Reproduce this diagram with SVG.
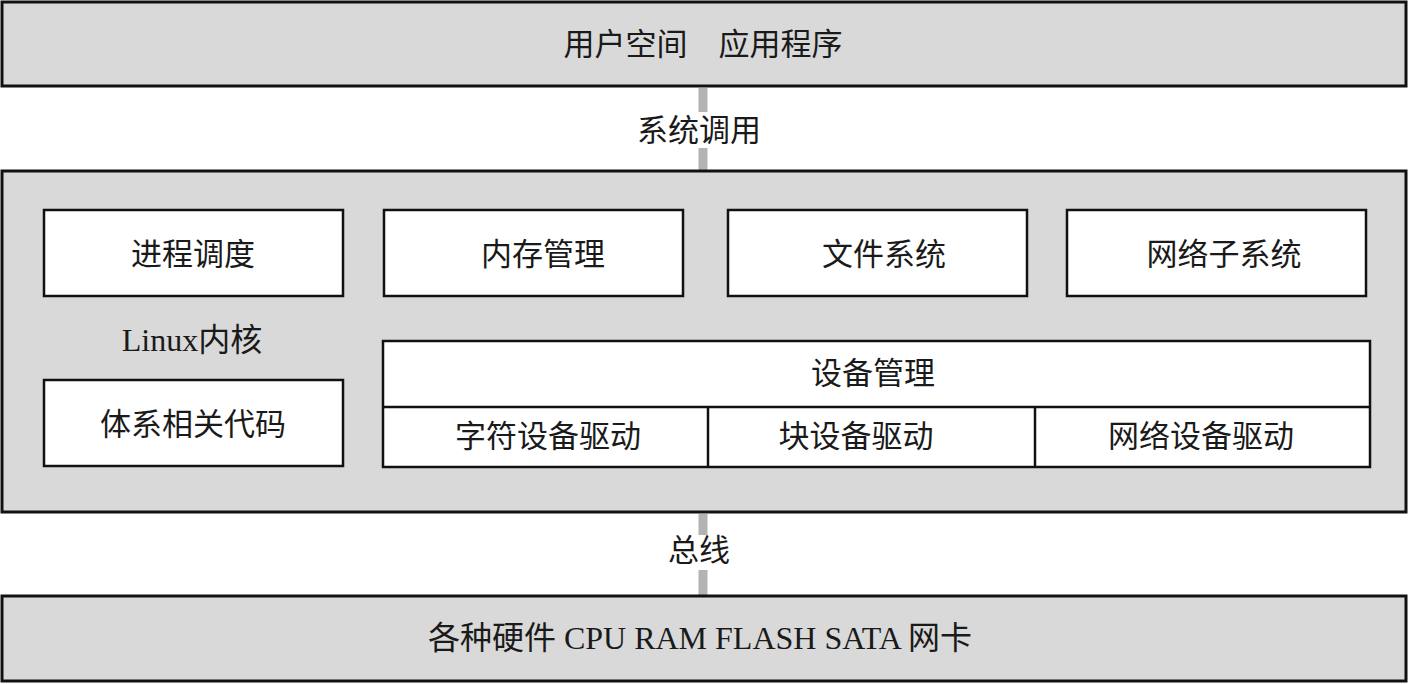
<svg xmlns="http://www.w3.org/2000/svg" width="1409" height="684" viewBox="0 0 1409 684">
<style>
.layer{fill:#d9d9d9;stroke:#111;stroke-width:3}
.box{fill:#fff;stroke:#111;stroke-width:2.5}
.t{font-family:"Liberation Serif","Noto Sans CJK SC",serif;font-size:31px;fill:#1a1a1a;text-anchor:middle;dominant-baseline:central}
.conn{stroke:#b3b3b3;stroke-width:9}
</style>
<rect width="1409" height="684" fill="#fff"/>
<g id="connectors">
<line class="conn" x1="703" y1="88" x2="703" y2="112"/>
<line class="conn" x1="703" y1="148" x2="703" y2="170"/>
<line class="conn" x1="703" y1="514" x2="703" y2="535"/>
<line class="conn" x1="703" y1="570" x2="703" y2="595"/>
<text class="t" x="699" y="130">系统调用</text>
<text class="t" x="699" y="550">总线</text>
</g>
<g id="user">
<rect class="layer" x="2" y="2" width="1404" height="84"/>
<text class="t" x="703" y="44">用户空间　应用程序</text>
</g>
<g id="kernel">
<rect class="layer" x="2" y="171" width="1404" height="341"/>
<text class="t" x="192" y="340" style="font-size:32px">Linux内核</text>
</g>
<g id="sched">
<rect class="box" x="44" y="210" width="299" height="86"/>
<text class="t" x="193" y="254">进程调度</text>
</g>
<g id="mem">
<rect class="box" x="384" y="210" width="299" height="86"/>
<text class="t" x="543" y="254">内存管理</text>
</g>
<g id="fs">
<rect class="box" x="728" y="210" width="299" height="86"/>
<text class="t" x="884" y="254">文件系统</text>
</g>
<g id="net">
<rect class="box" x="1067" y="210" width="299" height="86"/>
<text class="t" x="1224" y="254">网络子系统</text>
</g>
<g id="arch">
<rect class="box" x="44" y="380" width="299" height="86"/>
<text class="t" x="193" y="424">体系相关代码</text>
</g>
<g id="dev">
<rect class="box" x="383" y="341" width="987" height="126"/>
<line x1="383" y1="407" x2="1370" y2="407" stroke="#111" stroke-width="2.5"/>
<line x1="708" y1="407" x2="708" y2="467" stroke="#111" stroke-width="2.5"/>
<line x1="1035" y1="407" x2="1035" y2="467" stroke="#111" stroke-width="2.5"/>
<text class="t" x="873" y="373">设备管理</text>
<text class="t" x="548" y="436">字符设备驱动</text>
<text class="t" x="856" y="436">块设备驱动</text>
<text class="t" x="1201" y="436">网络设备驱动</text>
</g>
<g id="hw">
<rect class="layer" x="2" y="596" width="1404" height="85"/>
<text class="t" x="700" y="638" style="font-size:32px">各种硬件 CPU RAM FLASH SATA 网卡</text>
</g>
</svg>
